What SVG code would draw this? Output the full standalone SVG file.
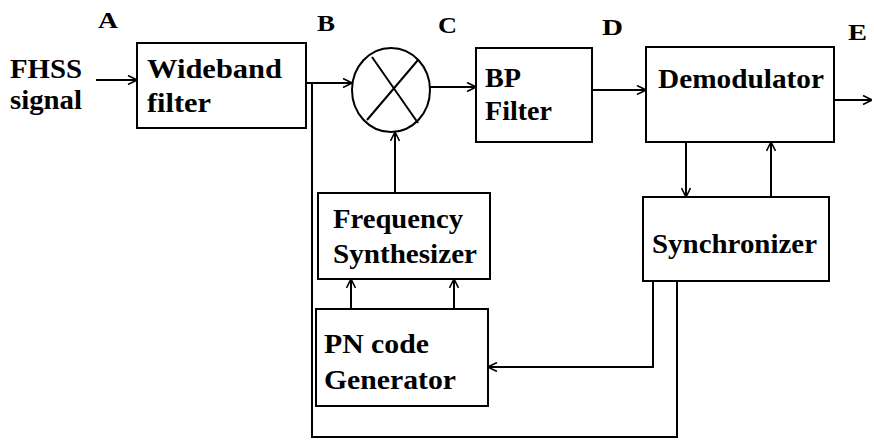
<svg xmlns="http://www.w3.org/2000/svg" width="874" height="442" viewBox="0 0 874 442">
<defs>
<style>
.box{fill:#fff;stroke:#000;stroke-width:2}
.ln{fill:none;stroke:#000;stroke-width:2}
.t{font-family:"Liberation Serif","DejaVu Serif",serif;font-weight:bold;font-size:27px;fill:#000}
.lbl{font-family:"Liberation Serif","DejaVu Serif",serif;font-weight:bold;font-size:23px;fill:#000}
</style>
<marker id="ah" viewBox="0 0 10 10" refX="10" refY="5" markerWidth="10" markerHeight="10" markerUnits="userSpaceOnUse" orient="auto">
<path d="M1,0.5 L10,5 L1,9.5" fill="none" stroke="#000" stroke-width="1.6"/>
</marker>
</defs>
<rect width="874" height="442" fill="#fff"/>
<g id="labels">
<text class="lbl" x="98" y="28" textLength="20" lengthAdjust="spacingAndGlyphs">A</text>
<text class="lbl" x="317" y="31" textLength="18" lengthAdjust="spacingAndGlyphs">B</text>
<text class="lbl" x="438" y="33" textLength="19" lengthAdjust="spacingAndGlyphs">C</text>
<text class="lbl" x="602" y="35" textLength="21" lengthAdjust="spacingAndGlyphs">D</text>
<text class="lbl" x="848" y="40" textLength="19" lengthAdjust="spacingAndGlyphs">E</text>
</g>
<g id="input">
<text class="t" x="10" y="78" textLength="72" lengthAdjust="spacingAndGlyphs">FHSS</text>
<text class="t" x="10" y="109" textLength="72" lengthAdjust="spacingAndGlyphs">signal</text>
</g>
<g id="wideband">
<rect class="box" x="137" y="43" width="169" height="85"/>
<text class="t" x="147" y="78" textLength="135" lengthAdjust="spacingAndGlyphs">Wideband</text>
<text class="t" x="147" y="112" textLength="64" lengthAdjust="spacingAndGlyphs">filter</text>
</g>
<g id="mixer">
<ellipse class="ln" cx="391" cy="90" rx="39" ry="42"/>
<path class="ln" d="M372,57 L418,123 M418,60 L367,120"/>
</g>
<g id="bpfilter">
<rect class="box" x="476" y="48" width="116" height="94"/>
<text class="t" x="485" y="87" textLength="36" lengthAdjust="spacingAndGlyphs">BP</text>
<text class="t" x="485" y="120" textLength="67" lengthAdjust="spacingAndGlyphs">Filter</text>
</g>
<g id="demodulator">
<rect class="box" x="646" y="47" width="188" height="95"/>
<text class="t" x="658" y="88" textLength="166" lengthAdjust="spacingAndGlyphs">Demodulator</text>
</g>
<g id="synthesizer">
<rect class="box" x="318" y="193" width="172" height="86"/>
<text class="t" x="333" y="228" textLength="130" lengthAdjust="spacingAndGlyphs">Frequency</text>
<text class="t" x="333" y="263" textLength="144" lengthAdjust="spacingAndGlyphs">Synthesizer</text>
</g>
<g id="synchronizer">
<rect class="box" x="643" y="197" width="186" height="84"/>
<text class="t" x="652" y="253" textLength="165" lengthAdjust="spacingAndGlyphs">Synchronizer</text>
</g>
<g id="pngen">
<rect class="box" x="316" y="309" width="172" height="97"/>
<text class="t" x="324" y="353" textLength="105" lengthAdjust="spacingAndGlyphs">PN code</text>
<text class="t" x="324" y="389" textLength="132" lengthAdjust="spacingAndGlyphs">Generator</text>
</g>
<g id="connectors">
<path class="ln" d="M96,80 L137,80" marker-end="url(#ah)"/>
<path class="ln" d="M306,83 L352,83" marker-end="url(#ah)"/>
<path class="ln" d="M312,83 L312,437 L677,437 L677,281"/>
<path class="ln" d="M430,87 L476,87" marker-end="url(#ah)"/>
<path class="ln" d="M592,90 L646,90" marker-end="url(#ah)"/>
<path class="ln" d="M834,100 L872,100" marker-end="url(#ah)"/>
<path class="ln" d="M686,142 L686,197" marker-end="url(#ah)"/>
<path class="ln" d="M771,197 L771,142" marker-end="url(#ah)"/>
<path class="ln" d="M395,193 L395,132" marker-end="url(#ah)"/>
<path class="ln" d="M351,309 L351,279" marker-end="url(#ah)"/>
<path class="ln" d="M454,309 L454,279" marker-end="url(#ah)"/>
<path class="ln" d="M653,281 L653,367 L488,367" marker-end="url(#ah)"/>
</g>
</svg>
